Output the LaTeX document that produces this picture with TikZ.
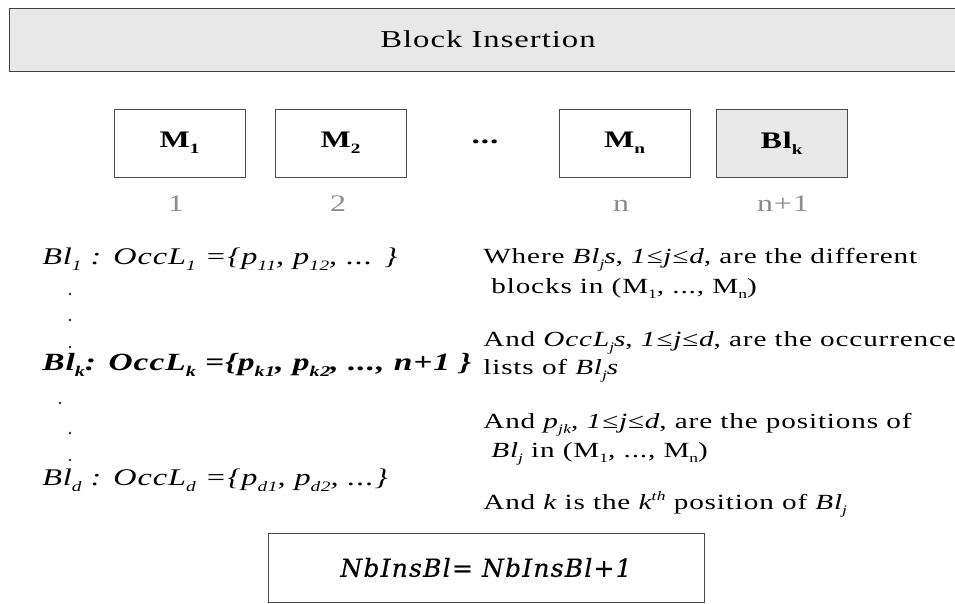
\documentclass[tikz,border=0pt]{standalone}
\usepackage{fontspec}
\usepackage{graphicx}
\setmainfont{Liberation Serif}[FakeStretch=1.35, LetterSpace=4]
\newfontfamily\countfont{DejaVu Serif}[LetterSpace=5, FakeBold=0.5]
% low, small subscript as in the original drawing
\newcommand{\dn}[1]{\raisebox{-0.55ex}{\scalebox{0.6}{#1}}}
\newcommand{\up}[1]{\raisebox{0.9ex}{\scalebox{0.6}{#1}}}

\begin{document}
\begin{tikzpicture}[x=0.02cm, y=-0.02cm,
  titlebox/.style={draw=black!75, fill=black!9, minimum width=19.16cm, minimum height=1.26cm, inner sep=0pt, font=\fontsize{13.8}{16}\selectfont},
  blockbox/.style={draw=black!70, minimum width=2.62cm, minimum height=1.36cm, inner sep=0pt, font=\fontsize{13.5}{15}\selectfont\bfseries},
  poslabel/.style={anchor=base, text=black!45, font=\fontsize{13.5}{15}\selectfont},
  formula/.style={anchor=base west, inner sep=0pt, font=\fontsize{13.6}{15}\selectfont\itshape},
  note/.style={anchor=base west, inner sep=0pt, font=\fontsize{12.3}{14}\selectfont},
  counterbox/.style={draw=black!70, minimum width=8.72cm, minimum height=1.38cm, inner sep=0pt, font=\fontsize{14.2}{16}\countfont\itshape}]

\useasboundingbox (0,0) rectangle (955,604);

% Title
\node[titlebox] (title) at (488,39.5) {Block Insertion};

% ---- Block row ----
\node[blockbox] (m1) at (179.5,143) {M\dn{1}};
\node[blockbox] (m2) at (340.5,143) {M\dn{2}};
\node[font=\fontsize{14}{15}\selectfont\bfseries] (hdots) at (485,142) {...};
\node[blockbox] (mn) at (624.5,143) {M\dn{n}};
\node[blockbox, fill=black!9] (blk) at (781.5,143) {Bl\dn{k}};

% positions under the blocks
\foreach \x/\lab/\nm in {176/1/p1, 338/2/p2, 621/n/pn, 783/n+1/pk} {
  \node[poslabel] (\nm) at (\x,212) {\lab};
}

% ---- Occurrence lists ----
\node[formula] (occ1) at (42,264) {Bl\dn{1} : OccL\dn{1} =\{p\dn{11}, p\dn{12}, ... \}};
\node[formula, font=\fontsize{14.1}{16}\selectfont\bfseries\itshape] (occk) at (42,370) {Bl\dn{k}: OccL\dn{k} =\{p\dn{k1}, p\dn{k2}, ..., n+1 \}};
\node[formula] (occd) at (42,485) {Bl\dn{d} : OccL\dn{d} =\{p\dn{d1}, p\dn{d2}, ...\}};

% vertical dots
\foreach \x/\y in {70/294, 70/320, 70/347, 60/403, 70/433, 70/460} {
  \fill[black!85] (\x,\y) circle (0.028cm);
}

% ---- Explanations ----
\node[note] (w1) at (483,263) {Where {\itshape Bl\dn{j}s}, {\itshape 1≤j≤d}, are the different};
\node[note] (w2) at (491,293) {blocks in (M\dn{1}, ..., M\dn{n})};
\node[note] (w3) at (483,346) {And {\itshape OccL\dn{j}s}, {\itshape 1≤j≤d}, are the occurrence};
\node[note] (w4) at (483,374) {lists of {\itshape Bl\dn{j}s}};
\node[note] (w5) at (483,428) {And {\itshape p\dn{jk}}, {\itshape 1≤j≤d}, are the positions of};
\node[note] (w6) at (491,457) {{\itshape Bl\dn{j}} in (M\dn{1}, ..., M\dn{n})};
\node[note] (w7) at (483,509) {And {\itshape k} is the {\itshape k\up{th}} position of {\itshape Bl\dn{j}}};

% ---- Counter update ----
\node[counterbox] (nbins) at (486,567.5) {NbInsBl= NbInsBl+1};

\end{tikzpicture}
\end{document}
